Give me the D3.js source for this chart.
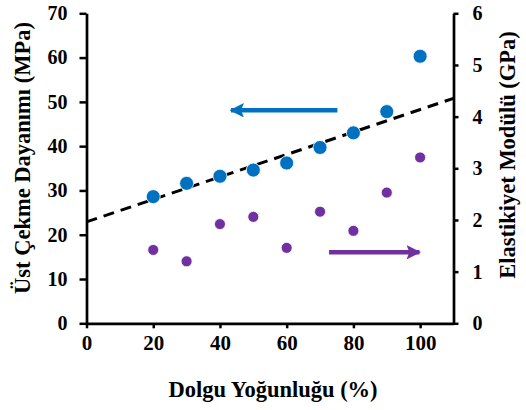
<!doctype html>
<html lang="tr">
<head>
<meta charset="UTF-8">
<title>Dolgu Yoğunluğu</title>
<style>
  html, body { margin: 0; padding: 0; background: #fff; }
  svg { display: block; }
</style>
</head>
<body>
<svg id="chart" width="526" height="410"></svg>
<script src="https://cdn.jsdelivr.net/npm/d3@7"></script>
<script>
// dolgu yoğunluğu (%)
const infill = [20, 30, 40, 50, 60, 70, 80, 90, 100]
// üst çekme dayanımı (MPa) - sol eksen
const strength = [28.6, 31.6, 33.2, 34.6, 36.2, 39.7, 43.0, 47.8, 60.3]
// elastikiyet modülü (GPa) - sağ eksen
const modulus = [1.42, 1.20, 1.92, 2.06, 1.46, 2.16, 1.79, 2.53, 3.21]
// trend çizgisi (sol eksen), x = 0 ve x = 110
const trend = [[0, 22.9], [110, 50.8]]
const xTicks = [0, 20, 40, 60, 80, 100]
const yLeftTicks = [0, 10, 20, 30, 40, 50, 60, 70]
const yRightTicks = [0, 1, 2, 3, 4, 5, 6]

const blue = '#0070C0'
const purple = '#7030A0'
const serif = '"Liberation Serif", "Times New Roman", Times, serif'

const svg = d3.select('#chart')

const x = d3.scaleLinear().domain([0, 110]).range([86.5, 453.5])
const yL = d3.scaleLinear().domain([0, 70]).range([323.3, 13.3])
const yR = d3.scaleLinear().domain([0, 6]).range([323.3, 13.3])

svg.append('defs').selectAll('marker')
  .data([['headBlue', blue], ['headPurple', purple]])
  .join('marker')
  .attr('id', d => d[0])
  .attr('viewBox', '0 0 10 10')
  .attr('refX', 9).attr('refY', 5)
  .attr('markerWidth', 3.2).attr('markerHeight', 3.2)
  .attr('markerUnits', 'strokeWidth')
  .attr('orient', 'auto')
  .append('path')
  .attr('d', 'M0,0 L10,5 L0,10 L2,5 Z')
  .attr('fill', d => d[1])

function styleAxis(g, size) {
  g.attr('font-family', serif)
  g.select('.domain').attr('stroke', '#000').attr('stroke-width', 2.7)
  g.selectAll('.tick line').attr('stroke', '#000').attr('stroke-width', 2.5)
  g.selectAll('.tick text')
    .attr('fill', '#000')
    .style('font-family', serif)
    .style('font-weight', 'bold')
    .style('font-size', size + 'px')
}

// eksenler
svg.append('g')
  .attr('transform', `translate(0,${yL(0)})`)
  .call(d3.axisBottom(x).tickValues(xTicks).tickSize(5).tickSizeOuter(0).tickPadding(7))
  .call(styleAxis, 21)

svg.append('g')
  .attr('transform', `translate(${x(0)},0)`)
  .call(d3.axisLeft(yL).tickValues(yLeftTicks).tickSize(7).tickSizeOuter(0).tickPadding(12))
  .call(styleAxis, 20)

svg.append('g')
  .attr('transform', `translate(${x(110)},0)`)
  .call(d3.axisRight(yR).tickValues(yRightTicks).tickFormat(d3.format('d'))
    .tickSize(5).tickSizeOuter(0).tickPadding(14))
  .call(styleAxis, 20)

// trend çizgisi
svg.append('path')
  .attr('d', d3.line().x(d => x(d[0])).y(d => yL(d[1]))(trend))
  .attr('fill', 'none')
  .attr('stroke', '#000')
  .attr('stroke-width', 3)
  .attr('stroke-dasharray', '11,7')

// noktalar
svg.append('g').selectAll('circle')
  .data(infill.map((v, i) => [v, modulus[i]]))
  .join('circle')
  .attr('cx', d => x(d[0]))
  .attr('cy', d => yR(d[1]))
  .attr('r', 5.5)
  .attr('fill', purple)
  .attr('stroke', '#fff')
  .attr('stroke-width', 0.8)

svg.append('g').selectAll('circle')
  .data(infill.map((v, i) => [v, strength[i]]))
  .join('circle')
  .attr('cx', d => x(d[0]))
  .attr('cy', d => yL(d[1]))
  .attr('r', 7)
  .attr('fill', blue)
  .attr('stroke', '#fff')
  .attr('stroke-width', 0.8)

// oklar
svg.append('line')
  .attr('x1', x(75.2)).attr('y1', yL(48.1))
  .attr('x2', x(43.3)).attr('y2', yL(48.1))
  .attr('stroke', blue).attr('stroke-width', 4.5)
  .attr('marker-end', 'url(#headBlue)')

svg.append('line')
  .attr('x1', x(72.7)).attr('y1', yR(1.375))
  .attr('x2', x(99.8)).attr('y2', yR(1.375))
  .attr('stroke', purple).attr('stroke-width', 4.5)
  .attr('marker-end', 'url(#headPurple)')

// eksen başlıkları
const titles = [
  ['Dolgu Yoğunluğu (%)', 'translate(273,397)'],
  ['Üst Çekme Dayanımı (MPa)', 'translate(30,158) rotate(-90)'],
  ['Elastikiyet Modülü (GPa)', 'translate(515,155) rotate(-90)']
]
svg.selectAll('text.title')
  .data(titles)
  .join('text')
  .attr('class', 'title')
  .attr('transform', d => d[1])
  .attr('text-anchor', 'middle')
  .style('font-family', serif)
  .style('font-weight', 'bold')
  .style('font-size', '22.5px')
  .text(d => d[0])
</script>
</body>
</html>
